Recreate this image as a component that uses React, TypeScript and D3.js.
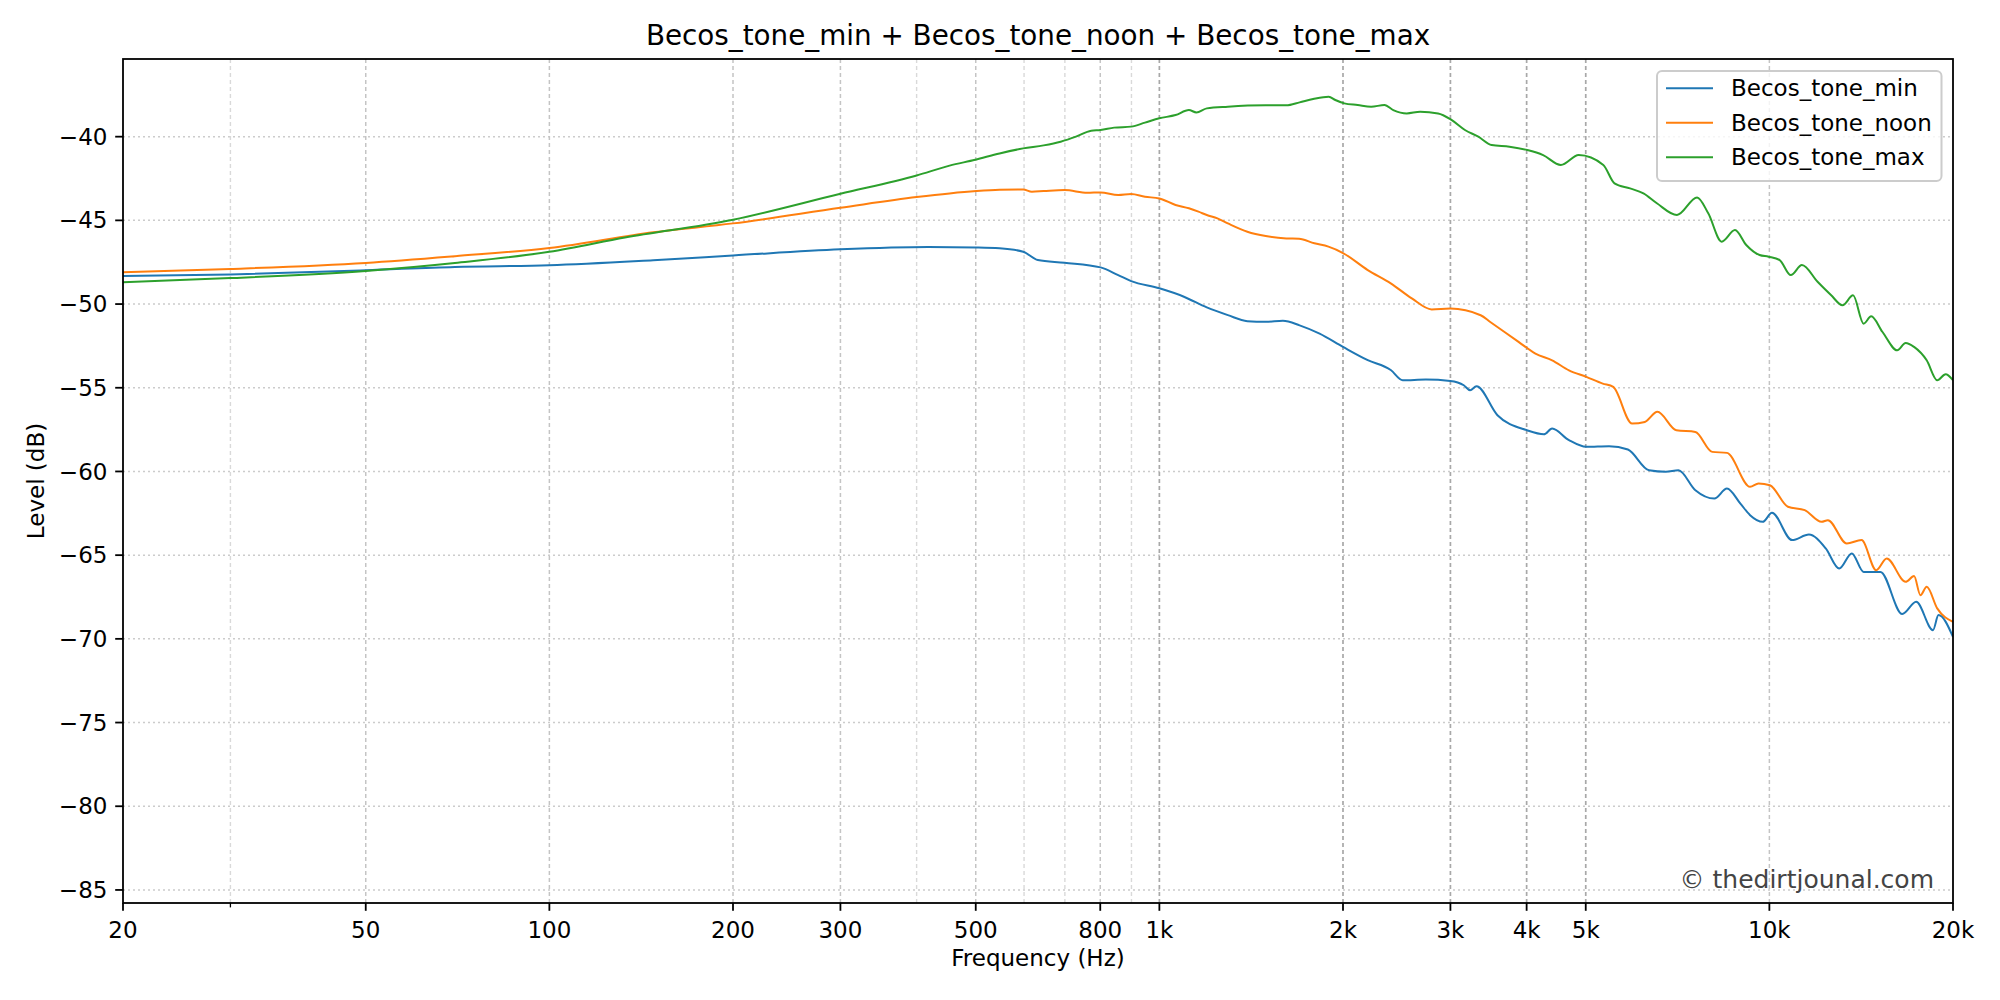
import React from "react";
import * as d3 from "d3";

// --- data ---
const minFreq = [20, 30, 50, 70, 100, 148, 200, 300, 418, 500, 547, 598, 632, 699, 801, 856, 899, 1000, 1097, 1196, 1295, 1394, 1494, 1594, 1698, 1831, 2000, 2196, 2395, 2506, 2734, 2999, 3155, 3232, 3310, 3583, 4005, 4270, 4404, 4693, 5011, 5459, 5862, 6349, 6765, 7095, 7563, 8124, 8521, 8964, 9298, 9752, 10099, 10897, 11610, 12372, 13014, 13650, 14272, 15208, 16515, 17404, 18546, 18933, 20000];
const minLevel = [-48.33, -48.23, -47.98, -47.78, -47.68, -47.38, -47.1, -46.73, -46.59, -46.62, -46.67, -46.87, -47.37, -47.53, -47.81, -48.27, -48.63, -49.06, -49.56, -50.2, -50.66, -51.02, -51.06, -51.0, -51.27, -51.77, -52.56, -53.35, -53.94, -54.55, -54.51, -54.59, -54.85, -55.15, -54.91, -56.64, -57.54, -57.78, -57.44, -58.13, -58.53, -58.49, -58.69, -59.93, -60.02, -59.93, -61.12, -61.62, -61.02, -61.92, -62.61, -63.01, -62.47, -64.1, -63.77, -64.6, -65.8, -64.9, -66.0, -66.0, -68.52, -67.79, -69.48, -68.58, -69.88];

const noonFreq = [20, 30, 50, 70, 100, 148, 200, 300, 400, 453, 501, 547, 598, 618, 646, 699, 762, 801, 856, 899, 947, 1000, 1063, 1118, 1159, 1196, 1245, 1295, 1394, 1494, 1615, 1694, 1795, 1893, 2000, 2196, 2395, 2593, 2795, 2999, 3363, 3487, 3880, 4135, 4404, 4693, 5011, 5331, 5547, 5956, 6249, 6553, 7039, 7563, 8060, 8521, 9298, 9598, 10019, 10725, 11427, 12177, 12471, 13392, 14159, 14968, 15573, 16726, 17266, 17686, 18109, 18843, 20000];
const noonLevel = [-48.1, -47.9, -47.54, -47.14, -46.65, -45.71, -45.18, -44.25, -43.61, -43.39, -43.25, -43.17, -43.15, -43.29, -43.25, -43.19, -43.35, -43.33, -43.49, -43.43, -43.59, -43.69, -44.08, -44.28, -44.48, -44.68, -44.88, -45.18, -45.68, -45.94, -46.08, -46.1, -46.37, -46.57, -46.95, -47.97, -48.76, -49.66, -50.32, -50.27, -50.67, -51.07, -52.26, -52.96, -53.36, -53.96, -54.35, -54.75, -54.95, -57.14, -57.04, -56.44, -57.54, -57.64, -58.83, -58.89, -60.92, -60.72, -60.82, -62.11, -62.31, -63.01, -62.91, -64.3, -64.1, -65.9, -65.2, -66.59, -66.25, -67.39, -66.89, -68.18, -68.98];

const maxFreq = [20, 30, 50, 70, 100, 133, 200, 300, 400, 453, 499, 547, 598, 646, 689, 730, 773, 801, 843, 899, 947, 1000, 1063, 1118, 1150, 1196, 1295, 1494, 1615, 1698, 1787, 1895, 1943, 2010, 2114, 2224, 2339, 2418, 2544, 2676, 2864, 3012, 3169, 3333, 3505, 3749, 4011, 4257, 4552, 4869, 5343, 5573, 5910, 6217, 6540, 7055, 7612, 7940, 8353, 8783, 9164, 9637, 9967, 10397, 10843, 11308, 11996, 12617, 13181, 13715, 14272, 14685, 15329, 16203, 16726, 17266, 18109, 18843, 19452, 20000];
const maxLevel = [-48.69, -48.45, -48.02, -47.54, -46.88, -46.03, -44.96, -43.41, -42.32, -41.73, -41.38, -41.0, -40.7, -40.52, -40.3, -40.0, -39.64, -39.6, -39.46, -39.4, -39.16, -38.9, -38.71, -38.41, -38.55, -38.31, -38.21, -38.13, -38.13, -37.95, -37.75, -37.61, -37.81, -38.01, -38.11, -38.21, -38.11, -38.41, -38.61, -38.51, -38.61, -39.0, -39.6, -40.0, -40.5, -40.6, -40.8, -41.1, -41.69, -41.1, -41.69, -42.79, -43.09, -43.39, -43.98, -44.68, -43.63, -44.58, -46.27, -45.58, -46.47, -47.07, -47.17, -47.37, -48.27, -47.67, -48.67, -49.46, -50.07, -49.48, -51.17, -50.73, -51.67, -52.76, -52.32, -52.56, -53.36, -54.55, -54.19, -54.55];

const seriesNames = ["Becos_tone_min", "Becos_tone_noon", "Becos_tone_max"];
const seriesColors = ["#1f77b4", "#ff7f0e", "#2ca02c"];

const xTicks = [20, 50, 100, 200, 300, 500, 800, 1000, 2000, 3000, 4000, 5000, 10000, 20000];
const xTickLabels = ["20", "50", "100", "200", "300", "500", "800", "1k", "2k", "3k", "4k", "5k", "10k", "20k"];
const yTicks = [-85, -80, -75, -70, -65, -60, -55, -50, -45, -40];

const darkGrid = [1000, 2000, 3000, 4000, 5000];
const midGrid = [50, 100, 200, 300, 500, 800, 10000];
const lightGrid = [30, 400, 600, 700, 900];

const W = 2000;
const H = 1000;
const left = 123;
const right = 1953;
const top = 59;
const bottom = 903;
const font = "'DejaVu Sans', sans-serif";
const fs = 23;

const App = () => {
  const x = d3.scaleLog().domain([20, 20000]).range([left, right]);
  const y = d3.scaleLinear().domain([-85.78, -35.36]).range([bottom, top]);

  const line = d3
    .line<[number, number]>()
    .x((d) => x(d[0]))
    .y((d) => y(d[1]))
    .curve(d3.curveMonotoneX);

  const series = [
    { freq: minFreq, level: minLevel },
    { freq: noonFreq, level: noonLevel },
    { freq: maxFreq, level: maxLevel },
  ];

  const fmt = (v: number) => String(v).replace("-", "\u2212");

  return (
    <svg
      width={W}
      height={H}
      style={{ position: "absolute", left: 0, top: 0, background: "#fff" }}
      fontFamily={font}
    >
      <defs>
        <clipPath id="plot">
          <rect x={left} y={top} width={right - left} height={bottom - top} />
        </clipPath>
      </defs>
      <rect x={0} y={0} width={W} height={H} fill="#fff" />

      {/* grid */}
      {yTicks.map((t) => (
        <line key={"gy" + t} x1={left} x2={right} y1={y(t)} y2={y(t)}
          stroke="#cccccc" strokeWidth={1.5} strokeDasharray="2,3" />
      ))}
      {lightGrid.map((t) => (
        <line key={"gl" + t} x1={x(t)} x2={x(t)} y1={top} y2={bottom}
          stroke="#d9d9d9" strokeWidth={1.4} strokeDasharray="4,3" />
      ))}
      {midGrid.map((t) => (
        <line key={"gm" + t} x1={x(t)} x2={x(t)} y1={top} y2={bottom}
          stroke="#c4c4c4" strokeWidth={1.5} strokeDasharray="4,3" />
      ))}
      {darkGrid.map((t) => (
        <line key={"gd" + t} x1={x(t)} x2={x(t)} y1={top} y2={bottom}
          stroke="#a8a8a8" strokeWidth={1.7} strokeDasharray="4,3" />
      ))}

      {/* curves */}
      <g clipPath="url(#plot)">
        {series.map((s, i) => (
          <path
            key={seriesNames[i]}
            d={line(s.freq.map((f, j) => [f, s.level[j]] as [number, number])) || ""}
            fill="none"
            stroke={seriesColors[i]}
            strokeWidth={2}
            strokeLinejoin="round"
          />
        ))}
      </g>

      {/* watermark */}
      <text x={1934} y={888} textAnchor="end" fontSize={25} fill="#444">
        © thedirtjounal.com
      </text>

      {/* spines */}
      <rect x={left} y={top} width={right - left} height={bottom - top}
        fill="none" stroke="#000" strokeWidth={1.8} />

      {/* x axis */}
      {xTicks.map((t, i) => (
        <g key={"xt" + t} transform={`translate(${x(t)},${bottom})`}>
          <line y1={0} y2={7.8} stroke="#000" strokeWidth={1.8} />
          <text y={34.5} textAnchor="middle" fontSize={fs} fill="#000">
            {xTickLabels[i]}
          </text>
        </g>
      ))}
      <line x1={x(30)} x2={x(30)} y1={bottom} y2={bottom + 4.4} stroke="#000" strokeWidth={1.3} />
      <text x={(left + right) / 2} y={966} textAnchor="middle" fontSize={fs} fill="#000">
        Frequency (Hz)
      </text>

      {/* y axis */}
      {yTicks.map((t) => (
        <g key={"yt" + t} transform={`translate(${left},${y(t)})`}>
          <line x1={0} x2={-7.8} stroke="#000" strokeWidth={1.8} />
          <text x={-15.6} dy="0.35em" textAnchor="end" fontSize={fs} fill="#000">
            {fmt(t)}
          </text>
        </g>
      ))}
      <text
        transform={`translate(36,${(top + bottom) / 2}) rotate(-90)`}
        textAnchor="middle"
        dy="0.35em"
        fontSize={fs}
        fill="#000"
      >
        Level (dB)
      </text>

      {/* title */}
      <text x={(left + right) / 2} y={45} textAnchor="middle" fontSize={27.8} fill="#000">
        Becos_tone_min + Becos_tone_noon + Becos_tone_max
      </text>

      {/* legend */}
      <g>
        <rect x={1657} y={71} width={284.5} height={110} rx={5}
          fill="#fff" fillOpacity={0.8} stroke="#cccccc" strokeWidth={2} />
        {seriesNames.map((name, i) => {
          const cy = 88.3 + i * 34.5;
          return (
            <g key={"lg" + name}>
              <line x1={1666} x2={1713} y1={cy} y2={cy} stroke={seriesColors[i]} strokeWidth={2} />
              <text x={1731} y={cy} dy="0.35em" fontSize={fs} fill="#000">
                {name}
              </text>
            </g>
          );
        })}
      </g>
    </svg>
  );
};

export default App;
